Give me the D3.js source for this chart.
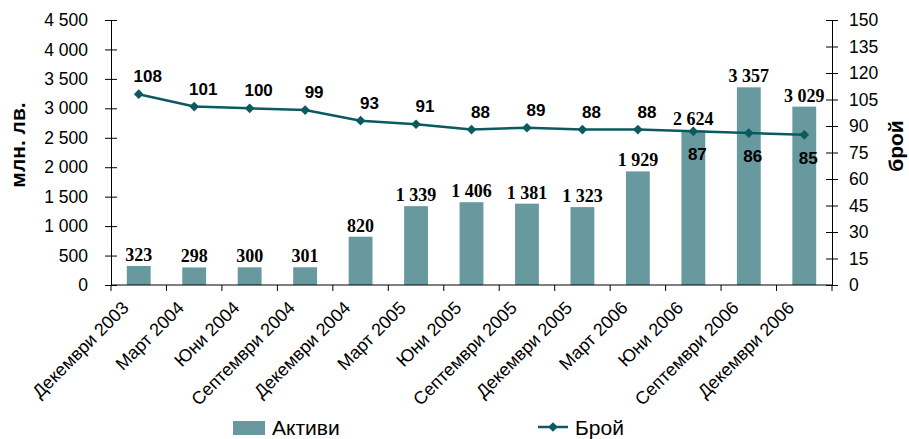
<!DOCTYPE html>
<html>
<head>
<meta charset="utf-8">
<script src="https://cdn.jsdelivr.net/npm/d3@7"></script>
<style>
  html, body { margin: 0; padding: 0; background: #fff; }
  svg { display: block; }
</style>
</head>
<body>
<svg id="chart" width="909" height="439"></svg>
<script>
// Quarterly periods
const categories = [
  "Декември 2003", "Март 2004", "Юни 2004", "Септември 2004", "Декември 2004",
  "Март 2005", "Юни 2005", "Септември 2005", "Декември 2005", "Март 2006",
  "Юни 2006", "Септември 2006", "Декември 2006"
];
// Assets, million BGN (bars, left axis)
const assets = [323, 298, 300, 301, 820, 1339, 1406, 1381, 1323, 1929, 2624, 3357, 3029];
// Count (line, right axis)
const count = [108, 101, 100, 99, 93, 91, 88, 89, 88, 88, 87, 86, 85];
// Axis ticks
const leftTicks = [0, 500, 1000, 1500, 2000, 2500, 3000, 3500, 4000, 4500];
const rightTicks = [0, 15, 30, 45, 60, 75, 90, 105, 120, 135, 150];

const barColor = "#68999f";
const lineColor = "#0a5a5f";
const sans = "'Liberation Sans', Arial, sans-serif";
const serif = "'Liberation Serif', 'Times New Roman', serif";

const svg = d3.select("#chart");
const plot = { left: 111, right: 832, top: 20, bottom: 285 };

const locale = d3.formatLocale({ decimal: ",", thousands: "\u00a0", grouping: [3], currency: ["", ""] });
const fmt = locale.format(",d");

const x = d3.scaleBand().domain(categories).range([plot.left, plot.right]).padding(0);
const yL = d3.scaleLinear().domain([0, 4500]).range([plot.bottom, plot.top]);
const yR = d3.scaleLinear().domain([0, 150]).range([plot.bottom, plot.top]);

const barW = x.bandwidth() * 0.43;
const cx = d => x(d) + x.bandwidth() / 2;

// Bars
svg.append("g").selectAll("rect").data(categories).join("rect")
  .attr("x", d => cx(d) - barW / 2)
  .attr("width", barW)
  .attr("y", (d, i) => yL(assets[i]))
  .attr("height", (d, i) => plot.bottom - yL(assets[i]))
  .attr("fill", barColor);

// Left axis
const gL = svg.append("g").attr("transform", `translate(${plot.left},0)`)
  .call(d3.axisLeft(yL).tickValues(leftTicks).tickSizeOuter(0).tickSizeInner(6).tickPadding(17)
    .tickFormat(fmt));
gL.selectAll(".tick line").attr("x1", -6).attr("x2", 6);
gL.selectAll("text").style("font-family", sans).style("font-size", "17.5px").attr("fill", "#000");
gL.select(".domain").attr("stroke", "#000");

// Right axis
const gR = svg.append("g").attr("transform", `translate(${plot.right},0)`)
  .call(d3.axisRight(yR).tickValues(rightTicks).tickSizeOuter(0).tickSizeInner(6).tickPadding(11));
gR.selectAll(".tick line").attr("x1", -6).attr("x2", 6);
gR.selectAll("text").style("font-family", sans).style("font-size", "17.5px").attr("fill", "#000");
gR.select(".domain").attr("stroke", "#000");

// Category axis with ticks at band boundaries
const gX = svg.append("g");
gX.append("line")
  .attr("x1", plot.left).attr("x2", plot.right)
  .attr("y1", plot.bottom).attr("y2", plot.bottom)
  .attr("stroke", "#000");
const bounds = d3.range(categories.length + 1).map(i => plot.left + i * x.step());
gX.selectAll("line.tk").data(bounds).join("line").attr("class", "tk")
  .attr("x1", d => d).attr("x2", d => d)
  .attr("y1", plot.bottom).attr("y2", plot.bottom + 6)
  .attr("stroke", "#000");
gX.selectAll("text").data(categories).join("text")
  .attr("transform", d => `translate(${cx(d) - 9},${plot.bottom + 24}) rotate(-45)`)
  .attr("text-anchor", "end")
  .style("font-family", sans).style("font-size", "18px")
  .text(d => d);

// Axis titles
svg.append("text")
  .attr("transform", `translate(25,145) rotate(-90)`)
  .attr("text-anchor", "middle")
  .style("font-family", sans).style("font-size", "21px").style("font-weight", "bold")
  .text("млн. лв.");
svg.append("text")
  .attr("transform", `translate(903,146) rotate(-90)`)
  .attr("text-anchor", "middle")
  .style("font-family", sans).style("font-size", "21px").style("font-weight", "bold")
  .text("брой");

// Bar value labels
svg.append("g").selectAll("text").data(categories).join("text")
  .attr("x", d => cx(d))
  .attr("y", (d, i) => yL(assets[i]) - 5)
  .attr("text-anchor", "middle")
  .style("font-family", serif).style("font-size", "18px").style("font-weight", "bold")
  .text((d, i) => fmt(assets[i]));

// Line
const line = d3.line().x((d, i) => cx(categories[i])).y(d => yR(d));
svg.append("path").datum(count)
  .attr("d", line)
  .attr("fill", "none").attr("stroke", lineColor).attr("stroke-width", 2.5);

const diamond = d3.symbol().type(d3.symbolDiamond2).size(60);
svg.append("g").selectAll("path").data(count).join("path")
  .attr("transform", (d, i) => `translate(${cx(categories[i])},${yR(d)})`)
  .attr("d", diamond)
  .attr("fill", lineColor);

// Line value labels: below the point where the bar reaches the line
svg.append("g").selectAll("text").data(count).join("text")
  .each(function (d, i) {
    const below = yL(assets[i]) <= yR(d) + 1;
    d3.select(this)
      .attr("x", cx(categories[i]) + (below ? 4 : 9))
      .attr("y", yR(d) + (below ? 29 : -12));
  })
  .attr("text-anchor", "middle")
  .style("font-family", sans).style("font-size", "17px").style("font-weight", "bold")
  .text(d => d);

// Legend
const lg = svg.append("g");
lg.append("rect").attr("x", 233).attr("y", 421).attr("width", 32).attr("height", 14).attr("fill", barColor);
lg.append("text").attr("x", 272).attr("y", 434.5)
  .style("font-family", sans).style("font-size", "21px").text("Активи");
lg.append("line").attr("x1", 538).attr("x2", 568).attr("y1", 427).attr("y2", 427)
  .attr("stroke", lineColor).attr("stroke-width", 2.5);
lg.append("path").attr("transform", "translate(553,427)").attr("d", diamond).attr("fill", lineColor);
lg.append("text").attr("x", 575).attr("y", 434.5)
  .style("font-family", sans).style("font-size", "21px").text("Брой");
</script>
</body>
</html>
